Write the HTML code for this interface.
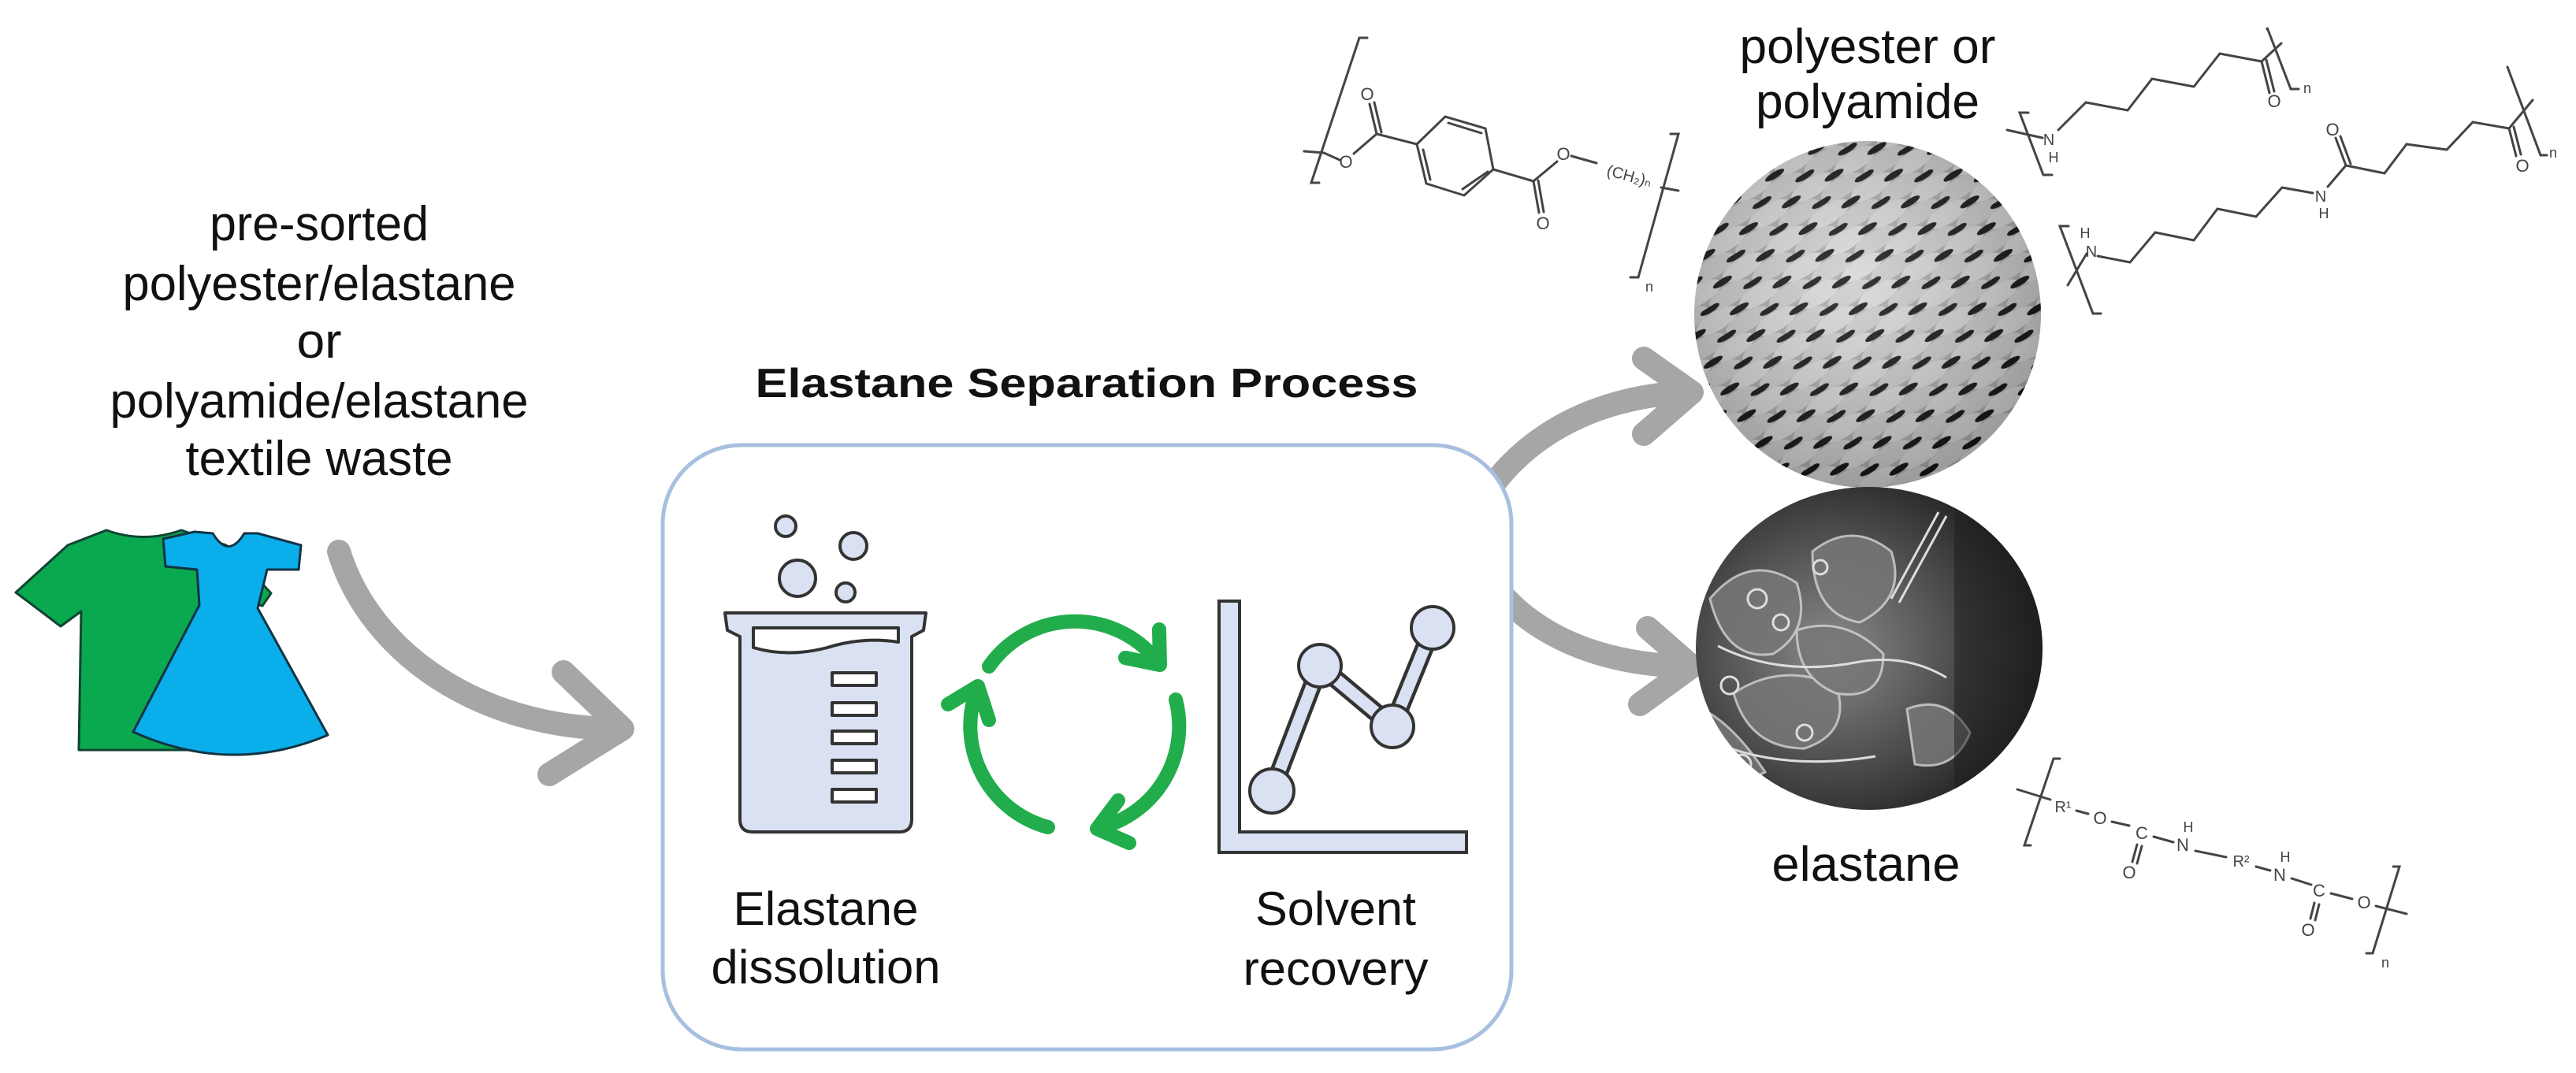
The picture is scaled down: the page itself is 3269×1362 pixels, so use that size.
<!DOCTYPE html>
<html><head><meta charset="utf-8"><style>
html,body{margin:0;padding:0;background:#fff}
svg{display:block}
text{font-family:"Liberation Sans",Arial,sans-serif}
</style></head><body>
<svg width="3269" height="1362" viewBox="0 0 3269 1362" xmlns="http://www.w3.org/2000/svg">
<defs>
<pattern id="weave" width="64" height="40" patternUnits="userSpaceOnUse" patternTransform="rotate(-32)">
<rect width="64" height="40" fill="#a9a9a9"/>
<ellipse cx="32" cy="20" rx="30" ry="12" fill="#d6d6d6"/>
<ellipse cx="0" cy="0" rx="30" ry="12" fill="#cbcbcb"/>
<ellipse cx="64" cy="0" rx="30" ry="12" fill="#cbcbcb"/>
<ellipse cx="0" cy="40" rx="30" ry="12" fill="#cbcbcb"/>
<ellipse cx="64" cy="40" rx="30" ry="12" fill="#cbcbcb"/>
<ellipse cx="32" cy="3" rx="14" ry="4" fill="#111"/>
<ellipse cx="0" cy="22" rx="14" ry="4" fill="#111"/>
<ellipse cx="64" cy="22" rx="14" ry="4" fill="#111"/>
</pattern>
<radialGradient id="shadeTop" cx="0.45" cy="0.4" r="0.6">
<stop offset="0" stop-color="#fff" stop-opacity="0.15"/>
<stop offset="1" stop-color="#000" stop-opacity="0.25"/>
</radialGradient>
<radialGradient id="shadeBot" cx="0.4" cy="0.5" r="0.6">
<stop offset="0" stop-color="#8a8a8a"/>
<stop offset="0.6" stop-color="#4a4a4a"/>
<stop offset="1" stop-color="#1e1e1e"/>
</radialGradient>
<clipPath id="cTop"><circle cx="2370" cy="399" r="220"/></clipPath>
<clipPath id="cBot"><ellipse cx="2372" cy="823" rx="220" ry="205"/></clipPath>
</defs>

<g font-size="62" fill="#111" text-anchor="middle">
<text x="405" y="305" textLength="278" lengthAdjust="spacingAndGlyphs">pre-sorted</text>
<text x="405" y="381" textLength="499" lengthAdjust="spacingAndGlyphs">polyester/elastane</text>
<text x="405" y="454" textLength="57" lengthAdjust="spacingAndGlyphs">or</text>
<text x="405" y="530" textLength="531" lengthAdjust="spacingAndGlyphs">polyamide/elastane</text>
<text x="405" y="603" textLength="339" lengthAdjust="spacingAndGlyphs">textile waste</text>
</g>

<path d="M135,673 Q182,690 230,673 L287,692 L344,753 L333,769 L300,760 L258,952 L100,952 L103,776 L77,795 L20,752 L86,692 Z" fill="#0aa84f" stroke="#143" stroke-width="3" stroke-linejoin="round"/>
<path d="M247,675 L270,677 Q290,710 310,677 L327,677 L382,692 L379,723 L339,723 L327,772 L416,933 Q293,985 169,929 L253,768 L250,723 L210,719 L207,684 Z" fill="#0aaeea" stroke="#134" stroke-width="3" stroke-linejoin="round"/>

<g fill="none" stroke="#a6a6a6" stroke-width="30" stroke-linecap="round" stroke-linejoin="round">
<path d="M430,700 C470,830 610,925 785,925"/>
<polyline points="715,853 790,925 697,983"/>
<path d="M1860,678 C1900,575 2000,505 2140,498"/>
<polyline points="2086,455 2147,498 2086,551"/>
<path d="M1860,678 C1900,785 2000,842 2140,846"/>
<polyline points="2091,797 2147,846 2081,894"/>
</g>

<text x="1379" y="504" font-size="52" font-weight="bold" fill="#111" text-anchor="middle" textLength="841" lengthAdjust="spacingAndGlyphs">Elastane Separation Process</text>

<rect x="841" y="565" width="1077" height="767" rx="100" ry="100" fill="#fff" stroke="#a9bfe0" stroke-width="5"/>

<g stroke="#333" stroke-width="4" fill="#d9e1f2" stroke-linejoin="round">
<circle cx="997" cy="668" r="13"/>
<circle cx="1083" cy="693" r="17"/>
<circle cx="1012" cy="734" r="23"/>
<circle cx="1073" cy="752" r="12"/>
<path d="M920,778 L1175,778 L1172,800 L1157,808 L1157,1040 Q1157,1056 1141,1056 L955,1056 Q939,1056 939,1040 L939,808 L923,800 Z"/>
<path d="M956,797 L1140,797 L1140,815 Q1095,808 1050,822 Q1000,835 956,822 Z" fill="#fff"/>
<rect x="1056" y="854" width="56" height="16" fill="#fff"/>
<rect x="1056" y="892" width="56" height="16" fill="#fff"/>
<rect x="1056" y="928" width="56" height="16" fill="#fff"/>
<rect x="1056" y="965" width="56" height="16" fill="#fff"/>
<rect x="1056" y="1002" width="56" height="16" fill="#fff"/>
</g>

<g fill="none" stroke="#21ad4b" stroke-width="18" stroke-linecap="round" stroke-linejoin="round">
<path d="M1255,846 A133,133 0 0 1 1466,836"/>
<polyline points="1471,799 1472,844 1428,835"/>
<path d="M1492,888 A133,133 0 0 1 1398,1050"/>
<polyline points="1433,1070 1392,1052 1419,1016"/>
<path d="M1330,1050 A133,133 0 0 1 1239,877"/>
<polyline points="1203,894 1241,871 1255,914"/>
</g>

<g stroke="#333" stroke-width="4" fill="#d9e1f2">
<path d="M1547,763 L1573,763 L1573,1056 L1861,1056 L1861,1082 L1547,1082 Z"/>
</g>
<g fill="none" stroke-linecap="round" stroke-linejoin="round">
<polyline points="1614,1004 1675,845 1767,922 1818,797" stroke="#333" stroke-width="24"/>
<polyline points="1614,1004 1675,845 1767,922 1818,797" stroke="#d9e1f2" stroke-width="15"/>
</g>
<g stroke="#333" stroke-width="4" fill="#d9e1f2">
<circle cx="1614" cy="1004" r="28"/>
<circle cx="1675" cy="845" r="27"/>
<circle cx="1767" cy="922" r="27"/>
<circle cx="1818" cy="797" r="27"/>
</g>

<g font-size="60" fill="#111" text-anchor="middle">
<text x="1048" y="1174" textLength="235" lengthAdjust="spacingAndGlyphs">Elastane</text>
<text x="1048" y="1248" textLength="291" lengthAdjust="spacingAndGlyphs">dissolution</text>
<text x="1695" y="1174" textLength="204" lengthAdjust="spacingAndGlyphs">Solvent</text>
<text x="1695" y="1250" textLength="235" lengthAdjust="spacingAndGlyphs">recovery</text>
</g>
<g font-size="62" fill="#111" text-anchor="middle">
<text x="2370" y="80" textLength="325" lengthAdjust="spacingAndGlyphs">polyester or</text>
<text x="2370" y="150" textLength="284" lengthAdjust="spacingAndGlyphs">polyamide</text>
<text x="2368" y="1118" textLength="239" lengthAdjust="spacingAndGlyphs">elastane</text>
</g>

<g clip-path="url(#cTop)">
<rect x="2140" y="170" width="460" height="460" fill="url(#weave)"/>
<rect x="2140" y="170" width="460" height="460" fill="url(#shadeTop)"/>
</g>
<g clip-path="url(#cBot)">
<rect x="2140" y="610" width="460" height="430" fill="url(#shadeBot)"/>
<g fill="#777" stroke="#cfcfcf" stroke-width="3" opacity="0.85">
<path d="M2170,760 Q2220,700 2280,740 Q2300,800 2250,830 Q2190,840 2170,760 Z"/>
<path d="M2200,880 Q2260,840 2330,870 Q2350,930 2290,950 Q2220,950 2200,880 Z"/>
<path d="M2300,700 Q2350,660 2400,700 Q2420,760 2360,790 Q2300,780 2300,700 Z"/>
<path d="M2280,800 Q2340,780 2390,830 Q2390,890 2330,880 Q2280,860 2280,800 Z"/>
<path d="M2160,900 Q2200,920 2240,980 Q2200,1000 2170,970 Z"/>
<path d="M2420,900 Q2470,880 2500,930 Q2480,980 2430,970 Z"/>
</g>
<g fill="none" stroke="#ddd" stroke-width="3">
<circle cx="2230" cy="760" r="12"/><circle cx="2260" cy="790" r="10"/>
<circle cx="2195" cy="870" r="11"/><circle cx="2290" cy="930" r="10"/>
<circle cx="2310" cy="720" r="9"/><circle cx="2210" cy="970" r="12"/>
<path d="M2460,650 L2400,760 M2470,655 L2410,765"/>
<path d="M2180,820 Q2260,860 2360,840 Q2420,830 2470,860"/>
<path d="M2170,940 Q2260,980 2380,960"/>
</g>
<rect x="2480" y="640" width="120" height="380" fill="#1b1b1b" opacity="0.5"/>
</g>

<g stroke="#444" stroke-width="3" fill="none" stroke-linecap="round">
<polyline points="1735,48 1725,48 1664,232 1674,232"/>
<line x1="1655" y1="192" x2="1680" y2="194"/>
<line x1="1680" y1="194" x2="1700" y2="203"/>
<line x1="1718" y1="195" x2="1747" y2="170"/>
<line x1="1747" y1="170" x2="1738" y2="132"/><line x1="1753" y1="168" x2="1744" y2="130"/>
<line x1="1747" y1="170" x2="1798" y2="183"/>
<polygon points="1798,183 1834,148 1885,163 1895,215 1858,248 1810,233"/>
<line x1="1838" y1="156" x2="1880" y2="169"/><line x1="1888" y1="218" x2="1856" y2="240"/><line x1="1806" y1="190" x2="1815" y2="228"/>
<line x1="1895" y1="215" x2="1946" y2="230"/>
<line x1="1946" y1="230" x2="1953" y2="270"/><line x1="1952" y1="229" x2="1959" y2="269"/>
<line x1="1946" y1="230" x2="1976" y2="205"/>
<line x1="1994" y1="198" x2="2026" y2="207"/>
<polyline points="2120,170 2130,170 2079,352 2069,352"/>
<line x1="2108" y1="238" x2="2130" y2="242"/>
<polyline points="2574,143 2563,143 2593,222 2604,222"/>
<line x1="2547" y1="165" x2="2592" y2="175"/>
<polyline points="2612,165 2647,130 2700,140 2731,100 2784,110 2817,68 2870,78"/>
<line x1="2870" y1="78" x2="2880" y2="118"/><line x1="2876" y1="76" x2="2886" y2="116"/>
<line x1="2870" y1="78" x2="2895" y2="55"/>
<polyline points="2877,37 2877,35 2907,113 2917,113"/>
<polyline points="2625,287 2614,287 2656,398 2666,398"/>
<line x1="2624" y1="362" x2="2648" y2="322"/>
<polyline points="2662,325 2703,333 2735,295 2784,305 2814,265 2863,275 2896,238 2935,245"/>
<line x1="2954" y1="237" x2="2977" y2="210"/>
<line x1="2977" y1="210" x2="2964" y2="175"/><line x1="2983" y1="208" x2="2970" y2="173"/>
<polyline points="2977,210 3026,220 3054,183 3105,190 3138,155 3184,163"/>
<line x1="3184" y1="163" x2="3193" y2="198"/><line x1="3190" y1="161" x2="3199" y2="196"/>
<line x1="3184" y1="163" x2="3214" y2="127"/>
<polyline points="3182,85 3182,85 3224,197 3232,197"/>
<polyline points="2614,963 2606,963 2569,1073 2577,1073"/>
<line x1="2560" y1="1002" x2="2602" y2="1015"/>
<line x1="2635" y1="1029" x2="2650" y2="1033"/>
<line x1="2680" y1="1043" x2="2702" y2="1048"/>
<line x1="2712" y1="1072" x2="2706" y2="1094"/><line x1="2718" y1="1074" x2="2712" y2="1096"/>
<line x1="2733" y1="1062" x2="2758" y2="1069"/>
<line x1="2786" y1="1080" x2="2825" y2="1088"/>
<line x1="2863" y1="1100" x2="2881" y2="1105"/>
<line x1="2908" y1="1115" x2="2933" y2="1123"/>
<line x1="2937" y1="1146" x2="2932" y2="1166"/><line x1="2943" y1="1148" x2="2938" y2="1168"/>
<line x1="2958" y1="1134" x2="2985" y2="1141"/>
<line x1="3015" y1="1150" x2="3054" y2="1160"/>
<polyline points="3037,1100 3045,1100 3011,1210 3003,1210"/>
</g>
<g fill="#444" font-size="22" text-anchor="middle">
<text x="1708" y="213">O</text>
<text x="1735" y="127">O</text>
<text x="1958" y="291">O</text>
<text x="1984" y="203">O</text>
<text x="2068" y="230" font-size="20" transform="rotate(15 2068 222)">(CH₂)ₙ</text>
<text x="2093" y="370" font-size="18">n</text>
<text x="2600" y="184" font-size="20">N</text>
<text x="2606" y="206" font-size="18">H</text>
<text x="2886" y="136">O</text>
<text x="2928" y="118" font-size="18">n</text>
<text x="2654" y="326" font-size="20">N</text>
<text x="2646" y="302" font-size="18">H</text>
<text x="2945" y="256" font-size="20">N</text>
<text x="2949" y="277" font-size="18">H</text>
<text x="2960" y="172">O</text>
<text x="3201" y="218">O</text>
<text x="3240" y="200" font-size="18">n</text>
<text x="2618" y="1031" font-size="20">R¹</text>
<text x="2665" y="1046">O</text>
<text x="2718" y="1065">C</text>
<text x="2702" y="1115">O</text>
<text x="2770" y="1080">N</text>
<text x="2777" y="1056" font-size="18">H</text>
<text x="2844" y="1100" font-size="20">R²</text>
<text x="2893" y="1118">N</text>
<text x="2900" y="1094" font-size="18">H</text>
<text x="2943" y="1138">C</text>
<text x="2929" y="1188">O</text>
<text x="3000" y="1153">O</text>
<text x="3027" y="1228" font-size="18">n</text>
</g>
</svg>
</body></html>
